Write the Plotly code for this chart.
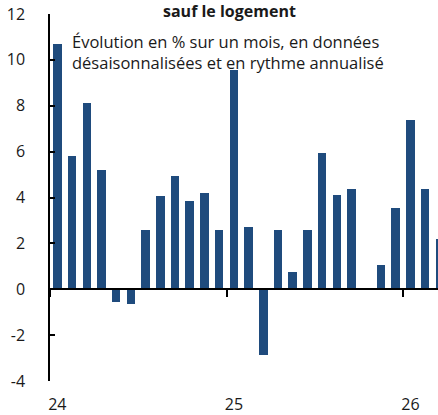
import plotly.graph_objects as go

months = ["2024-01","2024-02","2024-03","2024-04","2024-05","2024-06","2024-07","2024-08","2024-09","2024-10","2024-11","2024-12",
          "2025-01","2025-02","2025-03","2025-04","2025-05","2025-06","2025-07","2025-08","2025-09","2025-10","2025-11","2025-12",
          "2026-01","2026-02","2026-03"]
values = [10.7, 5.8, 8.1, 5.2, -0.55, -0.65, 2.6, 4.05, 4.95, 3.85, 4.2, 2.6,
          9.55, 2.7, -2.85, 2.6, 0.75, 2.6, 5.95, 4.1, 4.35, None, 1.05, 3.55,
          7.4, 4.35, 2.2]
year_labels = ["24", "25", "26"]
y_ticks = [-4, -2, 0, 2, 4, 6, 8, 10, 12]
y_tick_text = ["-4", "-2", "0", "2", "4", "6", "8", "10", "12"]

title_text = "<b>sauf le logement</b>"
subtitle = "Évolution en % sur un mois, en données<br>désaisonnalisées et en rythme annualisé"

idx = list(range(len(months)))
year_pos = [i for i, m in enumerate(months) if m.endswith("-01")]
year_bounds = [p - 0.5 for p in year_pos]

W, H = 438, 415
ml, mr, mt, mb = 50, 0, 14, 34
px_per_month = 14.71
xmax = -0.5 + (W - ml - mr) / px_per_month

FONT = "Open Sans"
color = "#1F4B7D"

fig = go.Figure()
fig.add_trace(go.Bar(x=idx, y=values, marker=dict(color=color, line=dict(width=0)),
                     width=0.58, showlegend=False, hoverinfo="skip"))
# invisible trace for the zero-line axis
fig.add_trace(go.Scatter(x=[idx[0]], y=[0], xaxis="x2", mode="markers",
                         marker=dict(opacity=0), showlegend=False, hoverinfo="skip"))

fig.update_layout(
    width=W, height=H,
    margin=dict(l=ml, r=mr, t=mt, b=mb, autoexpand=False),
    paper_bgcolor="white", plot_bgcolor="white",
    font=dict(family=FONT, size=16, color="#1a1a1a"),
    bargap=0,
    xaxis=dict(range=[-0.5, xmax], tickvals=year_pos, ticktext=year_labels,
               showline=False, showgrid=False, zeroline=False, ticks="",
               tickfont=dict(size=16), ticklabelstandoff=12, automargin=False),
    xaxis2=dict(range=[-0.5, xmax], overlaying="x", anchor="free", position=4/16,
                showline=True, linecolor="black", linewidth=1.5,
                tickvals=year_bounds, ticks="outside", ticklen=7, tickwidth=1.5,
                tickcolor="black", showticklabels=False, showgrid=False, zeroline=False,
                automargin=False),
    yaxis=dict(range=[-4, 12], tickvals=y_ticks, ticktext=y_tick_text, showline=True,
               linecolor="black", linewidth=1.5, ticks="inside", ticklen=5, tickwidth=1.5,
               tickcolor="black", showgrid=False, zeroline=False, tickfont=dict(size=16),
               ticklabelstandoff=20, automargin=False),
)

fig.add_annotation(text=title_text, xref="paper", yref="paper", x=(229 - ml) / (W - ml),
                   y=1.0, yshift=16, xanchor="center", yanchor="top",
                   showarrow=False, font=dict(size=16, family=FONT, color="#1a1a1a"))
fig.add_annotation(text=subtitle, xref="paper", yref="paper", x=(70 - ml) / (W - ml),
                   y=1.0, yshift=-14, xanchor="left", yanchor="top", align="left",
                   showarrow=False, font=dict(size=16.5, family=FONT, color="#1a1a1a"))

fig.write_html("out.html", config={"displayModeBar": False},
               post_script="document.body.style.margin='0';")
